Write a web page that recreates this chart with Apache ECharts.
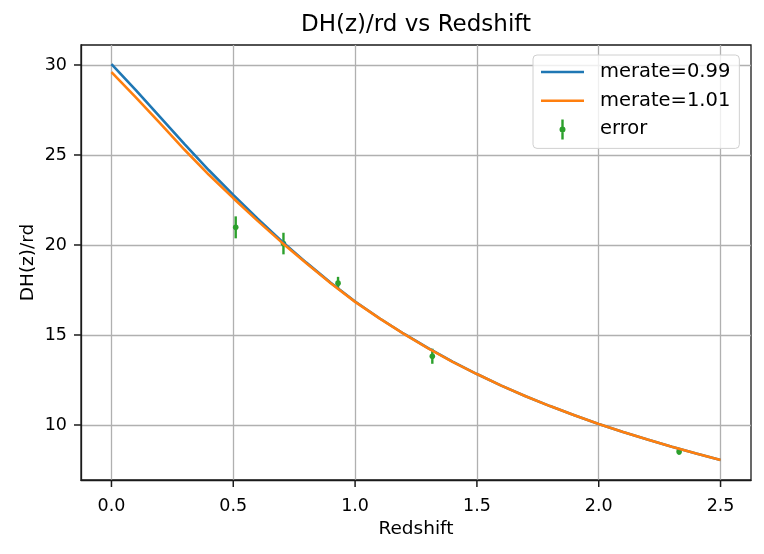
<!DOCTYPE html>
<html>
<head>
<meta charset="utf-8">
<script src="https://cdn.jsdelivr.net/npm/echarts@6/dist/echarts.min.js"></script>
<style>
  html, body { margin: 0; padding: 0; background: #fff; }
  #chart { width: 764px; height: 554px; }
</style>
</head>
<body>
<div id="chart"></div>
<script>
// redshift grid for the model curves
var redshift = [0.0, 0.1, 0.2, 0.3, 0.4, 0.5, 0.6, 0.7, 0.8, 0.9, 1.0, 1.1, 1.2,
  1.3, 1.4, 1.5, 1.6, 1.7, 1.8, 1.9, 2.0, 2.1, 2.2, 2.3, 2.4, 2.5]
var dhMerate099 = [30.05, 28.60, 27.10, 25.60, 24.15, 22.78, 21.46, 20.20, 19.02, 17.90, 16.86,
  15.93, 15.07, 14.27, 13.52, 12.83, 12.19, 11.60, 11.05, 10.54, 10.06, 9.61, 9.19, 8.79, 8.42, 8.06]
var dhMerate101 = [29.60, 28.20, 26.75, 25.29, 23.90, 22.60, 21.34, 20.13, 18.98, 17.87, 16.84,
  15.92, 15.06, 14.26, 13.51, 12.83, 12.19, 11.60, 11.05, 10.54, 10.06, 9.61, 9.19, 8.79, 8.42, 8.06]

// measured points with errors
var obsZ = [0.51, 0.706, 0.93, 1.317, 2.33]
var obsDH = [20.98, 20.08, 17.88, 13.82, 8.52]
var obsErr = [0.61, 0.60, 0.35, 0.42, 0.17]

var xTicks = [0.0, 0.5, 1.0, 1.5, 2.0, 2.5]
var yTicks = [10, 15, 20, 25, 30]

var X_MIN = -0.125, X_MAX = 2.625
var Y_MIN = 6.944, Y_MAX = 31.11

var FONT = 'DejaVu Sans'
var GREEN = '#2ca02c'
var INK = '#1a1a1a'
var TICK_LEN = 7

function zip(xs, ys) {
  return xs.map(function(x, i) { return [x, ys[i]] })
}

var errData = obsZ.map(function(z, i) { return [z, obsDH[i], obsErr[i]] })

var chart = echarts.init(document.getElementById('chart'))
chart.setOption({
  backgroundColor: '#fff',
  animation: false,
  title: {
    text: 'DH(z)/rd vs Redshift',
    left: 416,
    top: 14,
    padding: 0,
    textAlign: 'center',
    textStyle: { fontFamily: FONT, fontSize: 23, fontWeight: 'normal', color: '#000' }
  },
  legend: {
    orient: 'vertical',
    left: 533,
    top: 55,
    padding: [7, 9, 9, 8],
    itemWidth: 43,
    itemHeight: 20,
    itemGap: 8.7,
    backgroundColor: 'rgba(255,255,255,0.8)',
    borderColor: '#d0d0d0',
    borderWidth: 1,
    borderRadius: 4,
    textStyle: { fontFamily: FONT, fontSize: 19.5, color: '#000', padding: [0, 0, 0, 11] },
    data: [
      { name: 'merate=0.99', icon: 'path://M0,0 H43 V2.6 H0 Z' },
      { name: 'merate=1.01', icon: 'path://M0,0 H43 V2.6 H0 Z' },
      { name: 'error', icon: 'path://M1.8,0 H4.2 V20 H1.8 Z M0,10 A3,3 0 1,1 6,10 A3,3 0 1,1 0,10 Z' }
    ]
  },
  grid: {
    left: 81,
    right: 13,
    top: 45,
    bottom: 74,
    outerBoundsMode: 'none',
    containLabel: false,
    show: true,
    borderColor: INK,
    borderWidth: 1.3,
    backgroundColor: 'transparent'
  },
  xAxis: {
    type: 'value',
    min: X_MIN,
    max: X_MAX,
    name: 'Redshift',
    nameLocation: 'middle',
    nameGap: 40,
    nameMoveOverlap: false,
    nameTextStyle: { fontFamily: FONT, fontSize: 18.5, color: '#000' },
    axisLine: { show: true, onZero: false, lineStyle: { color: INK, width: 1.3 } },
    axisTick: { show: false, customValues: xTicks },
    axisLabel: {
      customValues: xTicks,
      margin: 17,
      fontFamily: FONT, fontSize: 17.5, color: '#000',
      formatter: function(v) { return v.toFixed(1) }
    },
    splitLine: { show: true, lineStyle: { color: '#b0b0b0', width: 1.3 } }
  },
  yAxis: {
    type: 'value',
    min: Y_MIN,
    max: Y_MAX,
    name: 'DH(z)/rd',
    nameLocation: 'middle',
    nameGap: 43,
    nameMoveOverlap: false,
    nameTextStyle: { fontFamily: FONT, fontSize: 18.5, color: '#000' },
    axisLine: { show: true, onZero: false, lineStyle: { color: INK, width: 1.3 } },
    axisTick: { show: false, customValues: yTicks },
    axisLabel: {
      customValues: yTicks,
      margin: 14,
      fontFamily: FONT, fontSize: 17.5, color: '#000'
    },
    splitLine: { show: true, lineStyle: { color: '#b0b0b0', width: 1.3 } }
  },
  series: [
    {
      name: 'merate=0.99',
      type: 'line',
      data: zip(redshift, dhMerate099),
      showSymbol: false,
      symbol: 'none',
      color: '#1f77b4',
      lineStyle: { color: '#1f77b4', width: 2.6 }
    },
    {
      name: 'merate=1.01',
      type: 'line',
      data: zip(redshift, dhMerate101),
      showSymbol: false,
      symbol: 'none',
      color: '#ff7f0e',
      lineStyle: { color: '#ff7f0e', width: 2.6 }
    },
    {
      name: 'error',
      type: 'custom',
      data: errData,
      encode: { x: 0, y: 1 },
      color: GREEN,
      itemStyle: { color: GREEN },
      z: 3,
      renderItem: function(params, api) {
        var x = api.value(0)
        var y = api.value(1)
        var e = api.value(2)
        var lo = api.coord([x, y - e])
        var hi = api.coord([x, y + e])
        var c = api.coord([x, y])
        return {
          type: 'group',
          children: [
            { type: 'line', shape: { x1: lo[0], y1: lo[1], x2: hi[0], y2: hi[1] }, style: { stroke: GREEN, lineWidth: 2.4 } },
            { type: 'circle', shape: { cx: c[0], cy: c[1], r: 2.8 }, style: { fill: GREEN } }
          ]
        }
      }
    }
  ]
})

// outward tick marks, placed through the grid's own scales
var ticks = []
xTicks.forEach(function(v) {
  var p = chart.convertToPixel({ gridIndex: 0 }, [v, Y_MIN])
  ticks.push({ type: 'line', z: 100, silent: true,
    shape: { x1: p[0], y1: p[1], x2: p[0], y2: p[1] + TICK_LEN },
    style: { stroke: INK, lineWidth: 1.5 } })
})
yTicks.forEach(function(v) {
  var p = chart.convertToPixel({ gridIndex: 0 }, [X_MIN, v])
  ticks.push({ type: 'line', z: 100, silent: true,
    shape: { x1: p[0] - TICK_LEN, y1: p[1], x2: p[0], y2: p[1] },
    style: { stroke: INK, lineWidth: 1.5 } })
})
chart.setOption({ graphic: ticks })
</script>
</body>
</html>
